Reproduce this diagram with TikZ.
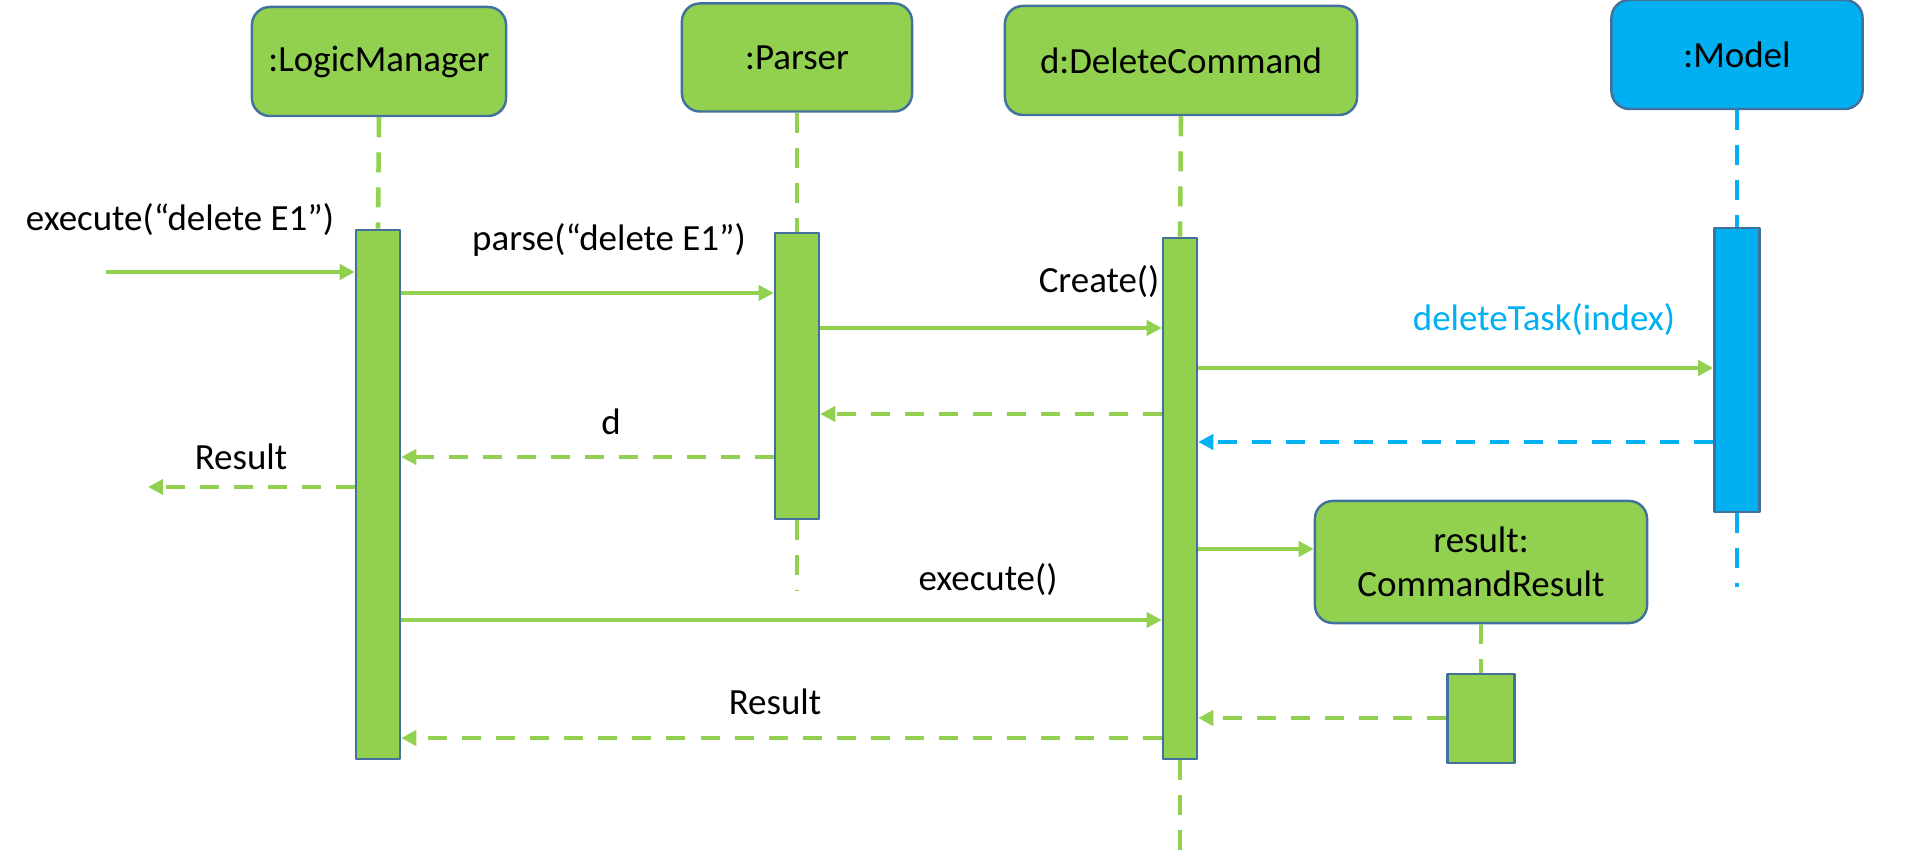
\documentclass[tikz,border=0pt]{standalone}
\usepackage{fontspec}
\setmainfont{Carlito}
\usetikzlibrary{arrows.meta}
\definecolor{objgreen}{HTML}{92D050}
\definecolor{objblue}{HTML}{00B0F0}
\definecolor{edgeblue}{HTML}{41719C}
\begin{document}
\begin{tikzpicture}[x=0.01cm, y=-0.01cm, line join=round,
	>={Triangle[length=4.3pt,width=4.3pt]},
	font=\fontsize{10.5}{12.6}\selectfont,
	obj/.style={draw=edgeblue, line width=0.7pt, fill=objgreen, rounded corners=0.18cm, align=center, inner sep=0pt},
	act/.style={draw=edgeblue, line width=0.7pt, fill=objgreen, inner sep=0pt},
	life/.style={objgreen, line width=1.3pt, dash pattern=on 0.2cm off 0.15cm},
	call/.style={->, objgreen, line width=1.3pt},
	ret/.style={->, objgreen, line width=1.3pt, dash pattern=on 0.19cm off 0.15cm}]
	\useasboundingbox (0,0) rectangle (1917,862);
	% objects
	\node[obj, minimum width=2.54cm, minimum height=1.09cm] (lm) at (379,61.5) {:LogicManager};
	\node[obj, minimum width=2.30cm, minimum height=1.08cm] (ps) at (797,57.5) {:Parser};
	\node[obj, minimum width=3.52cm, minimum height=1.09cm] (dc) at (1181,60.5) {d:DeleteCommand};
	\node[obj, fill=objblue, minimum width=2.51cm, minimum height=1.09cm] (md) at (1737,54.5) {:Model};
	\node[obj, minimum width=3.32cm, minimum height=1.22cm] (cr) at (1481,562) {result:\\CommandResult};
	% activation bars
	\node[act, minimum width=0.44cm, minimum height=5.29cm] (lmact) at (378,494.5) {};
	\node[act, minimum width=0.44cm, minimum height=2.86cm] (psact) at (797,376) {};
	\node[act, minimum width=0.34cm, minimum height=5.21cm] (dcact) at (1180,498.5) {};
	\node[act, fill=objblue, minimum width=0.45cm, minimum height=2.84cm] (mdact) at (1737,370) {};
	\node[act, minimum width=0.67cm, minimum height=0.89cm] (cract) at (1481,718.5) {};
	% lifelines
	\path
	(797,591)coordinate(psend)
	(1180,862)coordinate(dcend)
	(1737,587)coordinate(mdend)
	(106,272)coordinate(start)
	(148,487)coordinate(out)
	;
	\draw[life] (lm.south) -- (lmact.north);
	\draw[life] (ps.south) -- (psact.north);
	\draw[life] (psact.south) -- (psend);
	\draw[life] (dc.south) -- (dcact.north);
	\draw[life] (dcact.south) -- (dcend);
	\draw[life, objblue] (md.south) -- (mdact.north);
	\draw[life, objblue] (mdact.south) -- (mdend);
	\draw[life] (cr.south) -- (cract.north);
	% messages
	\draw[call] (start) -- (lmact.west |- start);
	\draw[call] (lmact.east |- 0,293) -- (psact.west |- 0,293);
	\draw[call] (psact.east |- 0,328) -- (dcact.west |- 0,328);
	\draw[call] (dcact.east |- 0,368) -- (mdact.west |- 0,368);
	\draw[ret] (dcact.west |- 0,414) -- (psact.east |- 0,414);
	\draw[ret, objblue] (mdact.west |- 0,442) -- (dcact.east |- 0,442);
	\draw[ret] (psact.west |- 0,457) -- (lmact.east |- 0,457);
	\draw[ret] (lmact.west |- out) -- (out);
	\draw[call] (dcact.east |- 0,549) -- (cr.west |- 0,549);
	\draw[call] (lmact.east |- 0,620) -- (dcact.west |- 0,620);
	\draw[ret] (cract.west |- 0,718) -- (dcact.east |- 0,718);
	\draw[ret] (dcact.west |- 0,738) -- (lmact.east |- 0,738);
	% labels
	\node (lexec) at (180,220) {execute(“delete E1”)};
	\node (lparse) at (609,240) {parse(“delete E1”)};
	\node[anchor=east, inner sep=0pt] (lcreate) at (1160,282) {Create()};
	\node[text=objblue] (ldel) at (1544,320) {deleteTask(index)};
	\node (ld) at (611,422) {d};
	\node (lres) at (241,457) {Result};
	\node (lexec2) at (988,580) {execute()};
	\node (lres2) at (775,702) {Result};
\end{tikzpicture}
\end{document}
